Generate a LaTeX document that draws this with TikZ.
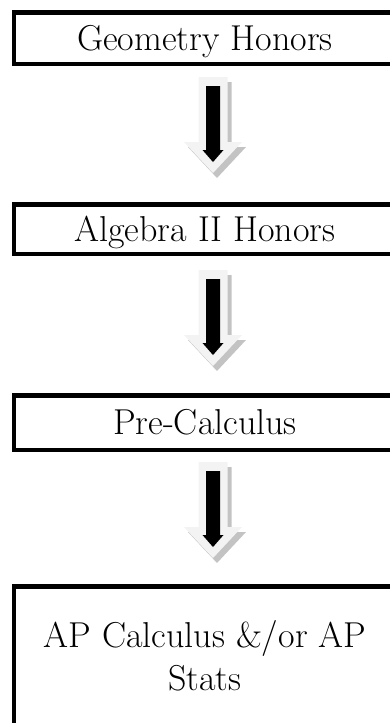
\documentclass[tikz,border=0pt]{standalone}
\usepackage{fontspec}
\usetikzlibrary{positioning}
\definecolor{arrowpale}{RGB}{243,243,243}
\definecolor{arrowshade}{RGB}{195,195,195}
\tikzset{
  course/.style={draw, line width=4.5pt, inner sep=0pt, minimum width=382pt,
                 align=center, font=\fontsize{36}{43}\selectfont},
  onecourse/.style={course, text height=24pt, text depth=0pt},
  stepdown/.pic={
    % pale block arrow with its shadow, black arrow on top
    \fill[arrowshade] (-10.5,5) -- (18.5,5) -- (18.5,70) -- (33,70) -- (4,101)
                      -- (-25,70) -- (-10.5,70) -- cycle;
    \fill[arrowpale] (-14.5,0) -- (14.5,0) -- (14.5,65) -- (29,65) -- (0,96)
                     -- (-29,65) -- (-14.5,65) -- cycle;
    \fill[black] (-7,9) -- (7,9) -- (7,73) -- (10.5,73) -- (0,85)
                 -- (-10.5,73) -- (-7,73) -- cycle;
  },
}
\begin{document}
\begin{tikzpicture}[x=1pt, y=-1pt]
\useasboundingbox (0,0) rectangle (390,723);
\clip (0,0) rectangle (390,723);

% ---------------- course boxes ----------------
\node[onecourse, minimum height=51.5pt] (geo) at (205,38) {Geometry Honors};
\node[onecourse, minimum height=49.5pt] (alg) at (205,229) {Algebra II Honors};
\node[onecourse, minimum height=54.5pt] (pre) at (205,422.5) {Pre-Calculus};
\node[course, minimum height=139.5pt] (apc) at (205,656)
  {AP Calculus \&/or AP\\Stats};

% ---------------- arrows between them ----------------
\pic (geoalg) at (213,77) {stepdown};
\pic (algpre) at (213,270) {stepdown};
\pic (preapc) at (213,462) {stepdown};
\end{tikzpicture}
\end{document}
